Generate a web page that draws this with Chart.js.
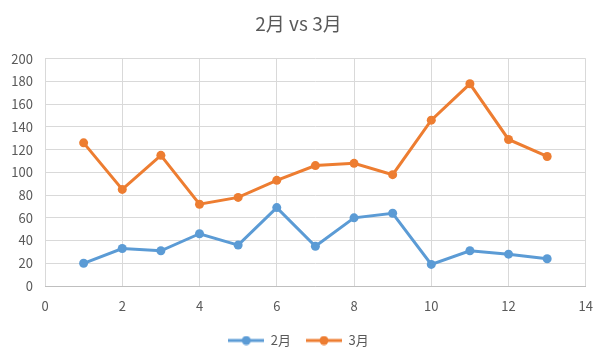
<!DOCTYPE html>
<html>
<head>
<meta charset="utf-8">
<script src="https://cdn.jsdelivr.net/npm/chart.js@4/dist/chart.umd.min.js"></script>
<style>
  html, body { margin: 0; padding: 0; background: #fff; }
</style>
</head>
<body>
<canvas id="chart" width="605" height="358"></canvas>
<script>
const titleText = "2月 vs 3月";
const seriesNames = ["2月", "3月"];
const days = [1, 2, 3, 4, 5, 6, 7, 8, 9, 10, 11, 12, 13];
const feb = [20, 33, 31, 46, 36, 69, 35, 60, 64, 19, 31, 28, 24];
const mar = [126, 85, 115, 72, 78, 93, 106, 108, 98, 146, 178, 129, 114];
const colors = ["#5B9BD5", "#ED7D31"];

const fontFamily = "'Noto Sans CJK JP', 'Noto Sans', sans-serif";
const textColor = "#595959";

// legend marker: short line with a dot in the middle
function legendMarker(color) {
    const c = document.createElement("canvas");
    c.width = 36;
    c.height = 10;
    const g = c.getContext("2d");
    g.strokeStyle = color;
    g.lineWidth = 3;
    g.beginPath();
    g.moveTo(0, 5);
    g.lineTo(36, 5);
    g.stroke();
    g.fillStyle = color;
    g.beginPath();
    g.arc(18, 5, 4.5, 0, Math.PI * 2);
    g.fill();
    return c;
}

const toPoints = (vals) => vals.map((v, i) => ({ x: days[i], y: v }));

const ctx = document.getElementById("chart").getContext("2d");
const chart = new Chart(ctx, {
    type: "scatter",
    data: {
        datasets: [feb, mar].map((vals, i) => ({
            label: seriesNames[i],
            data: toPoints(vals),
            showLine: true,
            borderColor: colors[i],
            backgroundColor: colors[i],
            borderWidth: 3,
            pointRadius: 4.5,
            pointHoverRadius: 4.5,
            pointBorderWidth: 0,
        })),
    },
    options: {
        responsive: false,
        animation: false,
        layout: { padding: { left: 0, right: 8, top: 0, bottom: 1 } },
        scales: {
            x: {
                type: "linear",
                min: 0,
                max: 14,
                ticks: {
                    stepSize: 2,
                    color: textColor,
                    padding: 12,
                    font: { family: fontFamily, size: 13 },
                },
                grid: { color: "#d9d9d9", drawTicks: false },
                border: { color: "#bfbfbf", width: 1 },
                afterFit: (scale) => { scale.height = 33; },
            },
            y: {
                min: 0,
                max: 200,
                ticks: {
                    stepSize: 20,
                    color: textColor,
                    padding: 12,
                    font: { family: fontFamily, size: 13 },
                },
                grid: { color: "#d9d9d9", drawTicks: false },
                border: { display: false },
                afterFit: (scale) => { scale.width = 45; },
            },
        },
        plugins: {
            title: {
                display: true,
                text: titleText,
                color: textColor,
                font: { family: fontFamily, size: 19, weight: "normal" },
                padding: { top: 12, bottom: 24 },
            },
            legend: {
                position: "bottom",
                labels: {
                    usePointStyle: true,
                    pointStyleWidth: 36,
                    boxHeight: 13,
                    padding: 15,
                    color: textColor,
                    font: { family: fontFamily, size: 13 },
                    generateLabels: (chart) =>
                        chart.data.datasets.map((ds, i) => ({
                            text: ds.label,
                            fillStyle: colors[i],
                            strokeStyle: colors[i],
                            pointStyle: legendMarker(colors[i]),
                            fontColor: textColor,
                            datasetIndex: i,
                            hidden: false,
                            lineWidth: 0,
                        })),
                },
            },
            tooltip: { enabled: false },
        },
    },
});
</script>
</body>
</html>
